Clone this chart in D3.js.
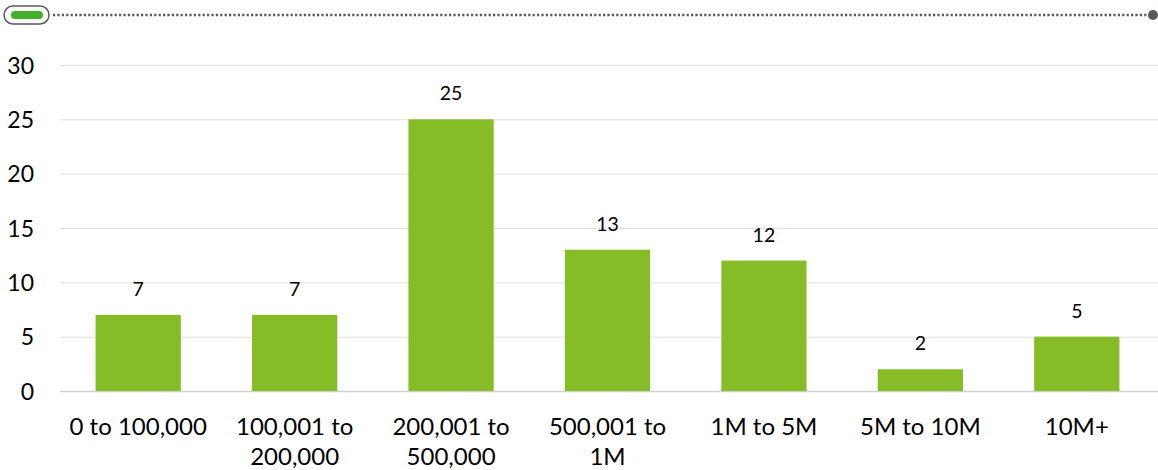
<!DOCTYPE html>
<html>
<head>
<meta charset="utf-8">
<script src="https://cdn.jsdelivr.net/npm/d3@7"></script>
<style>
  html, body { margin: 0; padding: 0; background: #fff; }
  svg { display: block; }
  text { font-family: Lato, "Open Sans", "Noto Sans", sans-serif; fill: #000; }
</style>
</head>
<body>
<svg id="chart" width="1158" height="470"></svg>
<script>
// Number of companies per revenue band
const categories = ["0 to 100,000", "100,001 to 200,000", "200,001 to 500,000",
                    "500,001 to 1M", "1M to 5M", "5M to 10M", "10M+"];
const counts = [7, 7, 25, 13, 12, 2, 5];
const yTicks = [0, 5, 10, 15, 20, 25, 30];

const svg = d3.select("#chart");
const W = 1158, H = 470;
const margin = { left: 60, right: 3, top: 65, bottom: 79 };
const plotW = W - margin.left - margin.right;
const plotH = H - margin.top - margin.bottom;

const x = d3.scaleBand().domain(categories)
  .range([margin.left, margin.left + plotW])
  .paddingInner(0.455).paddingOuter(0.2275);
const y = d3.scaleLinear().domain([0, 30]).range([margin.top + plotH, margin.top]);

// Header ornament: pill badge with dotted rule
const head = svg.append("g");
head.append("rect").attr("x", 4).attr("y", 6).attr("width", 45).attr("height", 18)
  .attr("rx", 9).attr("fill", "#fff").attr("stroke", "#58595b").attr("stroke-width", 1.5);
head.append("rect").attr("x", 11).attr("y", 11).attr("width", 32).attr("height", 8)
  .attr("rx", 4).attr("fill", "#43b02a");
head.append("line").attr("x1", 53).attr("x2", 1150).attr("y1", 15).attr("y2", 15)
  .attr("stroke", "#58595b").attr("stroke-width", 2.4).attr("stroke-dasharray", "2.2,2.2");
head.append("circle").attr("cx", 1153).attr("cy", 15).attr("r", 5).attr("fill", "#58595b");

// Gridlines and y labels
const yAxis = d3.axisLeft(y).tickValues(yTicks).tickSize(-plotW - margin.right).tickPadding(26);
const gy = svg.append("g").attr("transform", `translate(${margin.left},0)`).call(yAxis);
gy.select(".domain").remove();
gy.selectAll(".tick line").attr("stroke", d => d === 0 ? "#d0d0d0" : "#e0e0e0")
  .attr("stroke-width", d => d === 0 ? 1.5 : 1);
gy.selectAll(".tick text").attr("font-size", 23).attr("fill", "#000").attr("dy", "0.36em");

// Bars
svg.append("g").selectAll("rect").data(counts).join("rect")
  .attr("x", (d, i) => x(categories[i]))
  .attr("y", d => y(d))
  .attr("width", x.bandwidth())
  .attr("height", d => y(0) - y(d))
  .attr("fill", "#86bc25");

// Value labels
svg.append("g").selectAll("text").data(counts).join("text")
  .attr("x", (d, i) => x(categories[i]) + x.bandwidth() / 2)
  .attr("y", d => y(d) - 19)
  .attr("text-anchor", "middle")
  .attr("font-size", 19.5)
  .text(d => d);

// Category labels, wrapped to fit the band step
const xAxis = d3.axisBottom(x).tickSize(0).tickPadding(0);
const gx = svg.append("g").attr("transform", `translate(0,${y(0)})`).call(xAxis);
gx.select(".domain").remove();
gx.selectAll(".tick text").attr("font-size", 24).attr("fill", "#000")
  .attr("dy", null)
  .each(function (label) {
    const t = d3.select(this);
    const words = label.split(" ");
    const maxW = 146;
    t.text(null);
    let lines = [], cur = [];
    const probe = t.append("tspan");
    words.forEach(w => {
      const trial = cur.concat(w).join(" ");
      probe.text(trial);
      if (probe.node().getComputedTextLength() > maxW && cur.length) {
        lines.push(cur.join(" "));
        cur = [w];
      } else cur.push(w);
    });
    lines.push(cur.join(" "));
    probe.remove();
    lines.forEach((ln, k) => {
      t.append("tspan").attr("x", 0).attr("y", 44 + k * 30).text(ln);
    });
  });
</script>
</body>
</html>
